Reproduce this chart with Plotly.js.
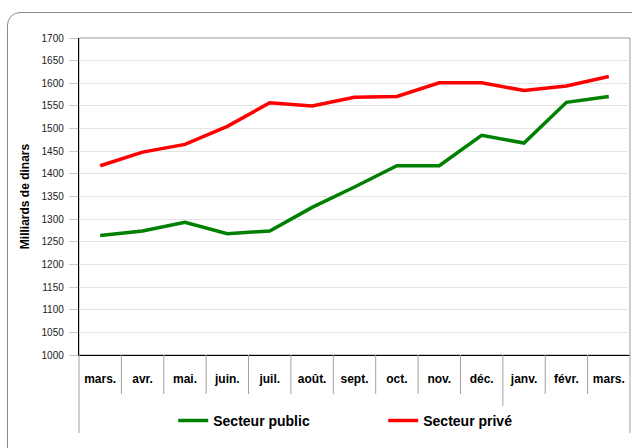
<!DOCTYPE html>
<html>
<head>
<meta charset="utf-8">
<script src="https://cdn.plot.ly/plotly-3.0.1.min.js"></script>
<style>
  html, body { margin: 0; padding: 0; background: #fff; overflow: hidden; }
  #wrap { position: relative; width: 632px; height: 448px; overflow: hidden; }
  #chart { position: absolute; left: 0; top: 0; width: 632px; height: 448px; }
  #frame { position: absolute; left: 7px; top: 12px; width: 640px; height: 450px;
           border: 1.5px solid #8a8a8a; border-radius: 13px; pointer-events: none; box-sizing: border-box; }
</style>
</head>
<body>
<div id="wrap">
  <div id="chart"></div>
  <div id="frame"></div>
</div>
<script>
const months = ["mars.", "avr.", "mai.", "juin.", "juil.", "août.", "sept.", "oct.", "nov.", "déc.", "janv.", "févr.", "mars."];
const secteurPublic = [1264, 1274, 1293, 1268, 1274, 1326, 1371, 1418, 1418, 1485, 1468, 1558, 1571];
const secteurPrive  = [1418, 1448, 1465, 1505, 1557, 1550, 1569, 1571, 1601, 1601, 1584, 1594, 1615];
const yearBreakAfter = 9; // index of last month of first year (déc.)

const idx = months.map((_, i) => i);

const traces = [
  { x: idx, y: secteurPublic, name: "Secteur public", type: "scatter", mode: "lines",
    line: { color: "#008000", width: 3.5 } },
  { x: idx, y: secteurPrive, name: "Secteur privé", type: "scatter", mode: "lines",
    line: { color: "#ff0000", width: 3.5 } }
];

const shapes = [];
shapes.push({ type: "rect", xref: "paper", yref: "paper", x0: 0, x1: 1, y0: 0, y1: 1,
  line: { color: "#9a9a9a", width: 1 }, layer: "below" });
for (let i = 1; i < months.length; i++) {
  const long = (i - 1) === yearBreakAfter;
  shapes.push({ type: "line", xref: "x", yref: "paper", x0: i - 0.5, x1: i - 0.5,
    y0: 0, y1: long ? -0.161 : -0.123, line: { color: "#a0a0a0", width: 1 } });
}
shapes.push({ type: "line", xref: "paper", yref: "paper", x0: 0, x1: 0, y0: 0, y1: -0.246,
  line: { color: "#a0a0a0", width: 1 } });
shapes.push({ type: "line", xref: "paper", yref: "paper", x0: 1, x1: 1, y0: 0, y1: -0.246,
  line: { color: "#a0a0a0", width: 1 } });

const layout = {
  width: 632, height: 448,
  margin: { l: 79, r: 2, t: 38, b: 93 },
  paper_bgcolor: "#ffffff", plot_bgcolor: "#ffffff",
  font: { family: "Liberation Sans, Arial, sans-serif", color: "#000" },
  showlegend: true,
  legend: { orientation: "h", x: 0.171, xanchor: "left", y: -0.208, yanchor: "middle",
    font: { size: 14, family: "Liberation Sans, Arial, sans-serif", weight: "bold", color: "#000" },
    entrywidth: 165, entrywidthmode: "pixels", bgcolor: "rgba(0,0,0,0)", traceorder: "normal" },
  xaxis: {
    range: [-0.5, months.length - 0.5],
    tickmode: "array", tickvals: idx, ticktext: months,
    tickfont: { size: 12, weight: "bold", color: "#000" },
    ticks: "", ticklabelstandoff: 12,
    showgrid: false, zeroline: false,
    showline: true, linecolor: "#000", linewidth: 1.2,
    fixedrange: true
  },
  yaxis: {
    range: [1000, 1700], dtick: 50, tick0: 1000,
    tickfont: { size: 10, color: "#222" },
    ticks: "outside", ticklen: 9, tickcolor: "#c8c8c8", tickwidth: 1,
    ticklabelstandoff: 3,
    showgrid: true, gridcolor: "#e4e4e4", gridwidth: 1,
    zeroline: false,
    showline: true, linecolor: "#000", linewidth: 1.2,
    title: { text: "Milliards de dinars", font: { size: 12, weight: "bold", color: "#000" }, standoff: 9 },
    fixedrange: true
  },
  shapes: shapes
};

Plotly.newPlot("chart", traces, layout, { displayModeBar: false, staticPlot: true });
</script>
</body>
</html>
